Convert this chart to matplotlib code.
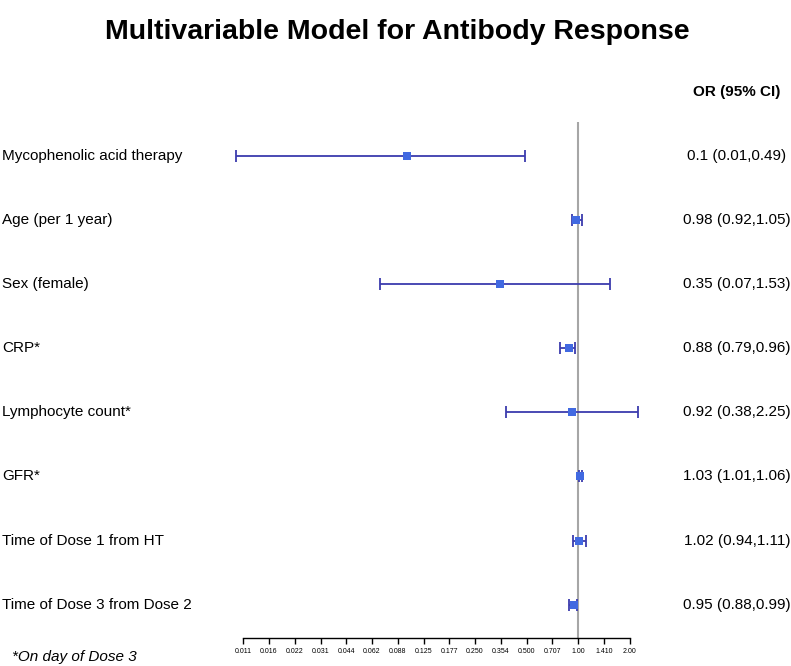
import numpy as np
import matplotlib
matplotlib.use('Agg')
from matplotlib import pyplot as plt
import matplotlib.transforms as mtrans

plt.rcParams['font.family'] = ['Liberation Sans', 'DejaVu Sans']

# Data
variables = ['Mycophenolic acid therapy', 'Age (per 1 year)', 'Sex (female)', 'CRP*',
             'Lymphocyte count*', 'GFR*', 'Time of Dose 1 from HT', 'Time of Dose 3 from Dose 2']
odds = [0.10, 0.98, 0.35, 0.88, 0.92, 1.03, 1.02, 0.95]
ci_low = [0.01, 0.92, 0.07, 0.79, 0.38, 1.01, 0.94, 0.88]
ci_high = [0.49, 1.05, 1.53, 0.96, 2.25, 1.06, 1.11, 0.99]
ci_text = ['0.1 (0.01,0.49)', '0.98 (0.92,1.05)', '0.35 (0.07,1.53)', '0.88 (0.79,0.96)',
           '0.92 (0.38,2.25)', '1.03 (1.01,1.06)', '1.02 (0.94,1.11)', '0.95 (0.88,0.99)']
tick_vals = [2 ** (k / 2) for k in range(-13, 3)]
tick_labels = ['0.011', '0.016', '0.022', '0.031', '0.044', '0.062', '0.088', '0.125',
               '0.177', '0.250', '0.354', '0.500', '0.707', '1.00', '1.410', '2.00']

W, H = 791, 666
fig = plt.figure(figsize=(W / 100, H / 100), dpi=100)

# axes placed in pixel terms: x 230..640, y 122..638
x0, x1, y0, y1 = 230, 640, 122, 638
ax = fig.add_axes([x0 / W, 1 - y1 / H, (x1 - x0) / W, (y1 - y0) / H])
ax.set_xscale('log', base=2)
ax.set_xlim(2 ** ((x0 - 578) / 51.5), 2 ** ((x1 - 578) / 51.5))
ax.set_ylim(7.52, -0.53)

y = np.arange(len(variables))
odds_a = np.array(odds)
xerr = [odds_a - np.array(ci_low), np.array(ci_high) - odds_a]

ax.axvline(1, color='#a6a6a6', lw=1.5, zorder=1)
ax.errorbar(odds, y, xerr=xerr, fmt='none', ecolor='#3c3cae', elinewidth=1.3,
            capsize=4.5, capthick=1.3, zorder=2)
ax.scatter(odds, y, marker='s', s=28, color='#4169e1', zorder=3, linewidths=0)

for s in ['top', 'right', 'left']:
    ax.spines[s].set_visible(False)
ax.spines['bottom'].set_bounds(tick_vals[0], tick_vals[-1])
ax.spines['bottom'].set_linewidth(1.0)
ax.set_yticks([])
ax.set_xticks(tick_vals)
ax.set_xticklabels(tick_labels, fontsize=5)
ax.xaxis.set_minor_locator(matplotlib.ticker.NullLocator())
ax.tick_params(axis='x', length=4, width=1.0, pad=3)

trans = mtrans.blended_transform_factory(fig.transFigure, ax.transData)
for i in range(len(variables)):
    fig.text(2 / W, i, variables[i], transform=trans, fontsize=11, va='center', ha='left')
    fig.text(737 / W, i, ci_text[i], transform=trans, fontsize=11, va='center', ha='center')

fig.text(737 / W, 1 - 92 / H, 'OR (95% CI)', fontsize=11, fontweight='bold', ha='center', va='center')
fig.text(397 / W, 1 - 32 / H, 'Multivariable Model for Antibody Response', fontsize=20.5,
         fontweight='bold', ha='center', va='center')
fig.text(12 / W, 1 - 657 / H, '*On day of Dose 3', fontsize=11, style='italic', ha='left', va='center')

fig.savefig('out.png', dpi=100)
